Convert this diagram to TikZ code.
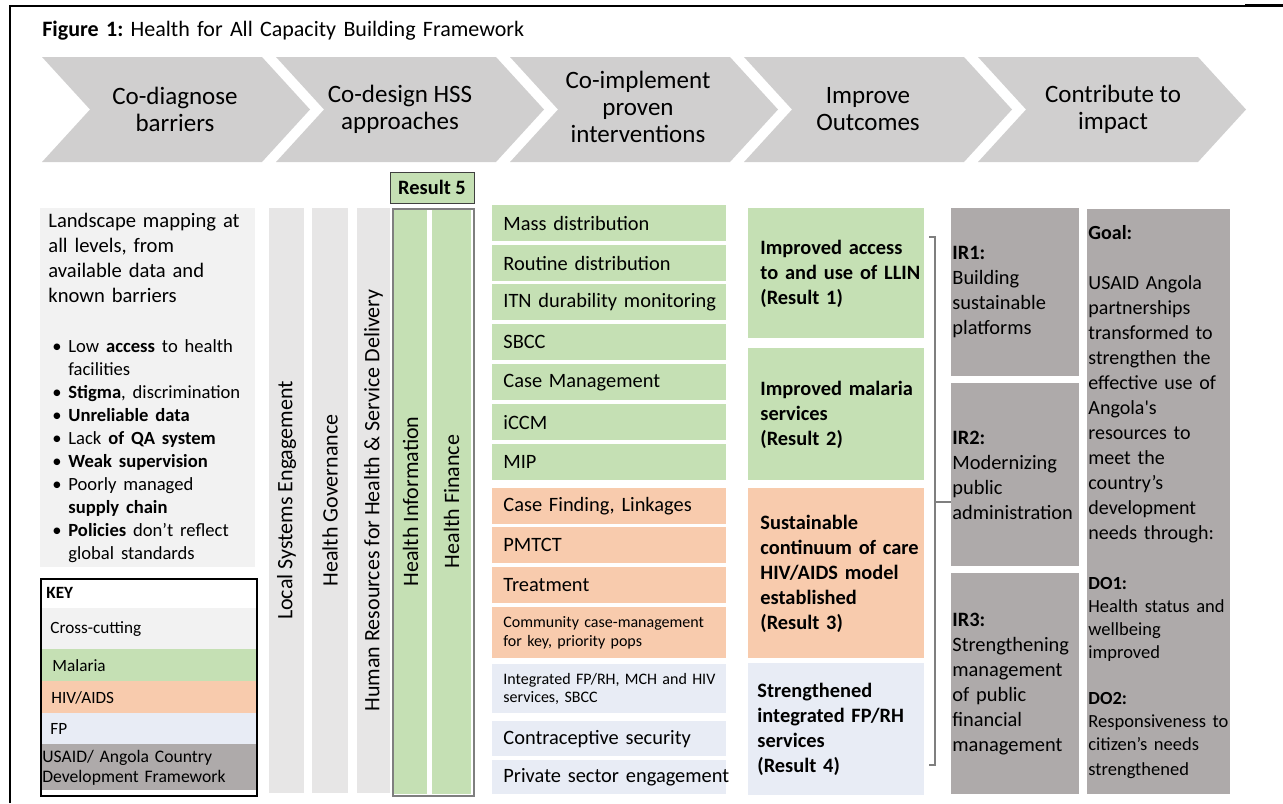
\documentclass[tikz,border=0pt]{standalone}
\usepackage{fontspec}
\setmainfont{Carlito}
\frenchspacing

\definecolor{chevgray}{RGB}{208,207,207}
\definecolor{crossbox}{RGB}{242,242,242}
\definecolor{crossbar}{RGB}{231,230,230}
\definecolor{malaria}{RGB}{197,224,180}
\definecolor{hivaids}{RGB}{248,203,173}
\definecolor{fp}{RGB}{232,236,245}
\definecolor{usaid}{RGB}{174,170,170}
\definecolor{linegray}{RGB}{127,127,127}

\tikzstyle{chev}=[fill=chevgray]
\tikzstyle{chevtext}=[align=center,font=\fontsize{12.5}{13.5}\selectfont]
\tikzstyle{box}=[anchor=north west,inner sep=0pt]
\tikzstyle{txt}=[anchor=west,align=left,inner sep=0pt,text width=130pt,font=\fontsize{10.2}{12.5}\selectfont]
\tikzstyle{small}=[font=\fontsize{8}{9.4}\selectfont]
\tikzstyle{item}=[box,minimum width=117pt,minimum height=18pt]
\tikzstyle{itemtxt}=[txt,xshift=5.5pt]
\tikzstyle{result}=[box,minimum width=88pt]
\tikzstyle{restxt}=[txt,xshift=6pt,font=\fontsize{10.2}{12.5}\selectfont\bfseries]
\tikzstyle{ir}=[box,fill=usaid,minimum width=64pt]
\tikzstyle{bar}=[rotate=90,inner sep=0pt,minimum width=292.5pt,font=\fontsize{11}{13}\selectfont]
\tikzstyle{keyrow}=[box,minimum width=108pt]
\tikzstyle{keytxt}=[txt,font=\fontsize{8.6}{10}\selectfont]
\tikzstyle{brk}=[draw=linegray,line width=0.75pt]

\newcommand{\barrier}[1]{\par\hangindent=10pt\hangafter=1\noindent\makebox[10pt][l]{\hspace{2pt}\textbullet}#1}

\begin{document}
\begin{tikzpicture}[x=0.5pt,y=-0.5pt]
\useasboundingbox (0,0) rectangle (1283,803);
\draw[line width=1pt] (10,803) -- (10,6) -- (1245,6);
\draw[line width=1.6pt] (1245,5.5) -- (1283,5.5);
\node (title) at (42,31) [txt,text width=300pt,font=\fontsize{11}{13}\selectfont] {\textbf{Figure 1:} Health for All Capacity Building Framework};

\fill[chev] (42,57) -- ++(220,0) -- ++(48,52.5) -- ++(-48,52.5) -- ++(-220,0) -- ++(48,-52.5) -- cycle;
\fill[chev] (276,57) -- ++(220,0) -- ++(48,52.5) -- ++(-48,52.5) -- ++(-220,0) -- ++(48,-52.5) -- cycle;
\fill[chev] (510,57) -- ++(220,0) -- ++(48,52.5) -- ++(-48,52.5) -- ++(-220,0) -- ++(48,-52.5) -- cycle;
\fill[chev] (744,57) -- ++(220,0) -- ++(48,52.5) -- ++(-48,52.5) -- ++(-220,0) -- ++(48,-52.5) -- cycle;
\fill[chev] (978,57) -- ++(220,0) -- ++(48,52.5) -- ++(-48,52.5) -- ++(-220,0) -- ++(48,-52.5) -- cycle;
\node (diagnose) at (175,109) [chevtext] {Co-diagnose\\barriers};
\node (design) at (400,109) [chevtext] {Co-design HSS\\approaches};
\node (implement) at (638,107) [chevtext] {Co-implement\\proven\\interventions};
\node (improve) at (868,109) [chevtext] {Improve\\Outcomes};
\node (impact) at (1113,109) [chevtext] {Contribute to\\impact};

\node (land) at (40,208) [box,fill=crossbox,minimum width=107.5pt,minimum height=179.5pt] {};
\node (land-t) at (land.west) [txt,xshift=4pt,font=\fontsize{10.3}{12.5}\selectfont] {Landscape mapping at\\all levels, from\\available data and\\known barriers\par
  \vspace{13.5pt}\fontsize{9.3}{11.5}\selectfont
  \barrier{Low \textbf{access} to health\newline facilities}
  \barrier{\textbf{Stigma}, discrimination}
  \barrier{\textbf{Unreliable data}}
  \barrier{Lack \textbf{of QA system}}
  \barrier{\textbf{Weak supervision}}
  \barrier{Poorly managed\newline\textbf{supply chain}}
  \barrier{\textbf{Policies} don’t reflect\newline global standards}\par};

\node (keyhead) at (40,578) [keyrow,minimum height=15pt] {};
\node (keyhead-t) at (keyhead.west) [keytxt,xshift=3pt,font=\fontsize{8.6}{10}\selectfont\bfseries] {KEY};
\node (kcross) at (40,608) [keyrow,fill=crossbox,minimum height=20.5pt] {};
\node (kcross-t) at (kcross.west) [keytxt,xshift=5pt] {Cross-cutting};
\node (kmal) at (40,649) [keyrow,fill=malaria,minimum height=16pt] {};
\node (kmal-t) at (kmal.west) [keytxt,xshift=6pt] {Malaria};
\node (khiv) at (40,681) [keyrow,fill=hivaids,minimum height=16pt] {};
\node (khiv-t) at (khiv.west) [keytxt,xshift=5.5pt] {HIV/AIDS};
\node (kfp) at (40,713) [keyrow,fill=fp,minimum height=15.5pt] {};
\node (kfp-t) at (kfp.west) [keytxt,xshift=5pt] {FP};
\node (kusaid) at (40,744) [keyrow,fill=usaid,minimum height=23pt] {};
\node (kusaid-t) at (kusaid.west) [keytxt,xshift=1pt,font=\fontsize{8.8}{10}\selectfont] {USAID/ Angola Country\\Development Framework};
\node (key) at (40,578) [box,draw=black,line width=0.75pt,minimum width=108pt,minimum height=108.5pt] {};

\node (lse) at (286.5,500.5) [bar,fill=crossbar,minimum height=17.5pt] {Local Systems Engagement};
\node (hg) at (330,500.5) [bar,fill=crossbar,minimum height=18pt] {Health Governance};
\node (hr) at (373.5,500.5) [bar,fill=crossbar,minimum height=16.5pt] {Human Resources for Health \& Service Delivery};
\node (hi) at (410.5,501.5) [bar,fill=malaria,minimum height=16.5pt] {Health Information};
\node (hf) at (451.5,501.5) [bar,fill=malaria,minimum height=19.5pt] {Health Finance};
\node (hss) at (392,208) [box,draw=linegray,line width=0.75pt,minimum width=40.5pt,minimum height=293.5pt] {};
\node (res5) at (432,187.5) [draw=black!75,fill=malaria,inner sep=0pt,minimum width=42pt,minimum height=15.5pt,font=\fontsize{10.2}{12}\selectfont\bfseries] {Result 5};

\node (mass) at (492,205) [item,fill=malaria] {};
\node (mass-t) at (mass.west) [itemtxt] {Mass distribution};
\node (routine) at (492,245) [item,fill=malaria] {};
\node (routine-t) at (routine.west) [itemtxt] {Routine distribution};
\node (itn) at (492,284) [item,fill=malaria] {};
\node (itn-t) at (itn.west) [itemtxt] {ITN durability monitoring};
\node (sbcc) at (492,324) [item,fill=malaria] {};
\node (sbcc-t) at (sbcc.west) [itemtxt] {SBCC};
\node (casemgmt) at (492,364) [item,fill=malaria] {};
\node (casemgmt-t) at (casemgmt.west) [itemtxt] {Case Management};
\node (iccm) at (492,404) [item,fill=malaria] {};
\node (iccm-t) at (iccm.west) [itemtxt] {iCCM};
\node (mip) at (492,444) [item,fill=malaria] {};
\node (mip-t) at (mip.west) [itemtxt] {MIP};
\node (casefind) at (492,488) [item,fill=hivaids] {};
\node (casefind-t) at (casefind.west) [itemtxt] {Case Finding, Linkages};
\node (pmtct) at (492,527) [item,fill=hivaids] {};
\node (pmtct-t) at (pmtct.west) [itemtxt] {PMTCT};
\node (treat) at (492,567) [item,fill=hivaids] {};
\node (treat-t) at (treat.west) [itemtxt] {Treatment};
\node (community) at (492,607) [item,fill=hivaids,minimum height=25.5pt] {};
\node (community-t) at (community.west) [itemtxt,small] {Community case-management\\for key, priority pops};
\node (integrated) at (492,664) [item,fill=fp,minimum height=24.5pt] {};
\node (integrated-t) at (integrated.west) [itemtxt,small] {Integrated FP/RH, MCH and HIV\\services, SBCC};
\node (contra) at (492,721) [item,fill=fp,minimum height=17.5pt] {};
\node (contra-t) at (contra.west) [itemtxt] {Contraceptive security};
\node (private) at (492,760) [item,fill=fp,minimum height=17pt] {};
\node (private-t) at (private.west) [itemtxt] {Private sector engagement};

\node (r1) at (748,208) [result,fill=malaria,minimum height=65pt] {};
\node (r1-t) at (r1.west) [restxt] {Improved access\\to and use of LLIN\\(Result 1)};
\node (r2) at (748,348) [result,fill=malaria,minimum height=66pt] {};
\node (r2-t) at (r2.west) [restxt] {Improved malaria\\services\\(Result 2)};
\node (r3) at (748,488) [result,fill=hivaids,minimum height=85pt] {};
\node (r3-t) at (r3.west) [restxt] {Sustainable\\continuum of care\\HIV/AIDS model\\established\\(Result 3)};
\node (r4) at (748,663) [result,fill=fp,minimum height=66pt] {};
\node (r4-t) at (r4.west) [restxt,xshift=-1.5pt] {Strengthened\\integrated FP/RH\\services\\(Result 4)};

\node (ir1) at (951,208) [ir,minimum height=84pt] {};
\node (ir1-t) at (ir1.west) [txt,xshift=0.5pt] {\textbf{IR1:}\\Building\\sustainable\\platforms};
\node (ir2) at (951,383) [ir,minimum height=91.5pt] {};
\node (ir2-t) at (ir2.west) [txt,xshift=0.5pt] {\textbf{IR2:}\\Modernizing\\public\\administration};
\node (ir3) at (951,573) [ir,minimum height=110.5pt] {};
\node (ir3-t) at (ir3.west) [txt,xshift=0.5pt] {\textbf{IR3:}\\Strengthening\\management\\of public\\financial\\management};

\coordinate (brt) at (929,237);
\coordinate (brb) at (929,765);
\coordinate (brm) at (935,502);
\draw[brk] (brt) -- ++(6,0) |- (brb);
\draw[brk] (brm) -- (brm -| ir2.west);

\node (goal) at (1087,209) [box,fill=usaid,minimum width=71.5pt,minimum height=292.5pt] {};
\node (goal-t) at (goal.west) [txt,xshift=0.5pt,font=\fontsize{10}{12.5}\selectfont] {\textbf{Goal:}\\[12.5pt]USAID Angola\\partnerships\\transformed to\\strengthen the\\effective use of\\Angola\textquotesingle s\\resources to\\meet the\\country’s\\development\\needs through:\par
  \vspace{13.5pt}\fontsize{9.25}{11.5}\selectfont
  \textbf{DO1:}\\Health status and\\wellbeing\\improved\\[11.5pt]\textbf{DO2:}\\Responsiveness to\\citizen’s needs\\strengthened};
\end{tikzpicture}
\end{document}
